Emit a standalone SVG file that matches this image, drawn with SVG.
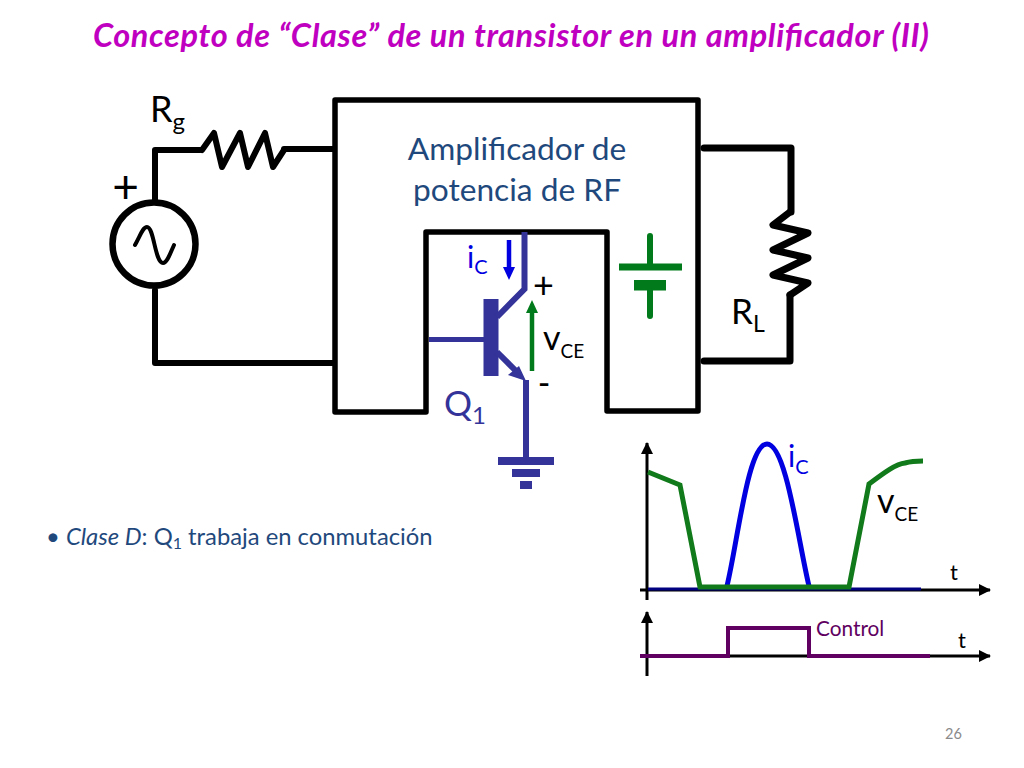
<svg xmlns="http://www.w3.org/2000/svg" width="1024" height="768" viewBox="0 0 1024 768">
<style>
text{font-family:"Lato","Open Sans","Liberation Sans",sans-serif}
.w{fill:none;stroke:#000;stroke-width:6;stroke-linejoin:round;stroke-linecap:round}
.t{fill:none;stroke:#333399;stroke-width:6}
.f{fill:#333399}
.ax{fill:none;stroke:#000;stroke-width:3}
</style>
<defs>
<marker id="ah" markerUnits="userSpaceOnUse" markerWidth="12" markerHeight="12" refX="11" refY="6" orient="auto"><path d="M0 0L12 6L0 12z" fill="#000"/></marker>
</defs>
<rect width="1024" height="768" fill="#fff"/>
<text id="title" x="93" y="47" textLength="836" font-size="32.500" font-weight="700" font-style="italic" fill="#c000c0">Concepto de “Clase” de un transistor en un amplificador (II)</text>
<g id="connectors">
<path class="w" d="M155 200V150H200"/>
<path class="w" d="M284 149H333"/>
<path class="w" d="M155 290V363H333"/>
<path class="w" style="stroke-width:7" d="M704 148H791V212"/>
<path class="w" style="stroke-width:7" d="M790 295V361H704"/>
</g>
<g id="amplifier">
<path class="w" style="stroke-width:5.500" d="M426 412H335V100H698V411H607V232H426Z"/>
<text x="517" y="160" text-anchor="middle" font-size="31.700" fill="#1f497d">Amplificador de</text>
<text x="517" y="201" text-anchor="middle" font-size="31.700" fill="#1f497d">potencia de RF</text>
</g>
<g id="source">
<circle cx="154" cy="244" r="41.500" fill="none" stroke="#000" stroke-width="6.500"/>
<path d="M135 245C141 234 143 227 147 227C154 227 155 263 163 263C167 263 170 254 174 245" fill="none" stroke="#000" stroke-width="4" stroke-linecap="round"/>
<text x="125.500" y="203" text-anchor="middle" font-size="46" fill="#000">+</text>
</g>
<g id="rg">
<path class="w" d="M202 150L214 133L222 167L240 133L248 167L265 133L273 167L284 150"/>
<text x="150" y="122" font-size="36" fill="#000">R<tspan font-size="24" dy="8">g</tspan></text>
</g>
<g id="rl">
<path class="w" style="stroke-width:7" d="M790 212L773 225L808 233L773 250L808 258L773 275L808 283L790 295"/>
<text x="731" y="324" font-size="35" fill="#000">R<tspan font-size="23" dy="8">L</tspan></text>
</g>
<g id="battery">
<path d="M650 236V267M650 285V316" fill="none" stroke="#007a1a" stroke-width="6" stroke-linecap="round"/>
<rect x="619" y="263.500" width="63" height="7" fill="#007a1a"/>
<rect x="634" y="280" width="32" height="10.500" fill="#007a1a"/>
</g>
<g id="transistor">
<rect class="f" x="483.500" y="299" width="15" height="77"/>
<path d="M429 339.500H484" fill="none" stroke="#333399" stroke-width="5"/>
<path class="t" d="M524.500 232V289L497 317"/>
<path class="t" d="M497 352L520 375"/>
<path class="f" d="M519 366L526 381L508 375Z"/>
<path class="t" d="M526 380V460"/>
<rect class="f" x="498" y="457" width="56" height="8"/>
<rect class="f" x="512" y="469" width="28" height="8"/>
<rect class="f" x="520" y="481" width="12" height="8"/>
<text x="444" y="416" font-size="35" fill="#333399">Q<tspan font-size="24" dy="8">1</tspan></text>
</g>
<g id="ic-label">
<path d="M509 240V268" fill="none" stroke="#0000e0" stroke-width="4.500"/>
<path d="M503 267H515L509 280Z" fill="#0000e0"/>
<text x="467" y="268" font-size="30" fill="#0000e0">i<tspan font-size="20" dy="6">C</tspan></text>
</g>
<g id="vce-label">
<path d="M532 371V312" fill="none" stroke="#007a1a" stroke-width="4.500"/>
<path d="M526 313H538L532 300Z" fill="#007a1a"/>
<text x="543.500" y="298" text-anchor="middle" font-size="36" fill="#000">+</text>
<text x="543" y="350" font-size="34" fill="#000">v<tspan font-size="19" dy="8">CE</tspan></text>
<text x="544" y="395" text-anchor="middle" font-size="34" fill="#000">-</text>
</g>
<text id="note" x="46" y="545" font-size="23.800" fill="#1f497d">• <tspan font-style="italic">Clase D</tspan>: Q<tspan font-size="16" dy="4">1</tspan><tspan dy="-4"> trabaja en conmutación</tspan></text>
<g id="plot-top">
<path class="ax" d="M647 600V443" marker-end="url(#ah)"/>
<path class="ax" d="M640 590H990" marker-end="url(#ah)"/>
<path d="M648 589H921" fill="none" stroke="#000080" stroke-width="3"/>
<path d="M727 586C738 540 748 444 767 444C786 444 798 540 809 586" fill="none" stroke="#0000e0" stroke-width="5"/>
<path d="M648 472L680 485L700 587H849L869 484C885 472 896 464 905 463C912 461 917 461 923 461" fill="none" stroke="#117a1a" stroke-width="5"/>
<text x="788" y="467" font-size="30" fill="#0000e0">i<tspan font-size="20" dy="7">C</tspan></text>
<text x="877" y="513" font-size="34" fill="#000">v<tspan font-size="19" dy="8">CE</tspan></text>
<text x="950" y="580" font-size="22" fill="#000">t</text>
</g>
<g id="plot-bottom">
<path class="ax" d="M647 676V612" marker-end="url(#ah)"/>
<path class="ax" d="M640 656H990" marker-end="url(#ah)"/>
<path d="M640 656H728V628H809V656H930" fill="none" stroke="#600060" stroke-width="4"/>
<text x="816" y="636" font-size="20.800" fill="#600060">Control</text>
<text x="958" y="648" font-size="22" fill="#000">t</text>
</g>
<text id="page" x="945" y="739" font-size="14.500" fill="#8a8a8a">26</text>
</svg>
